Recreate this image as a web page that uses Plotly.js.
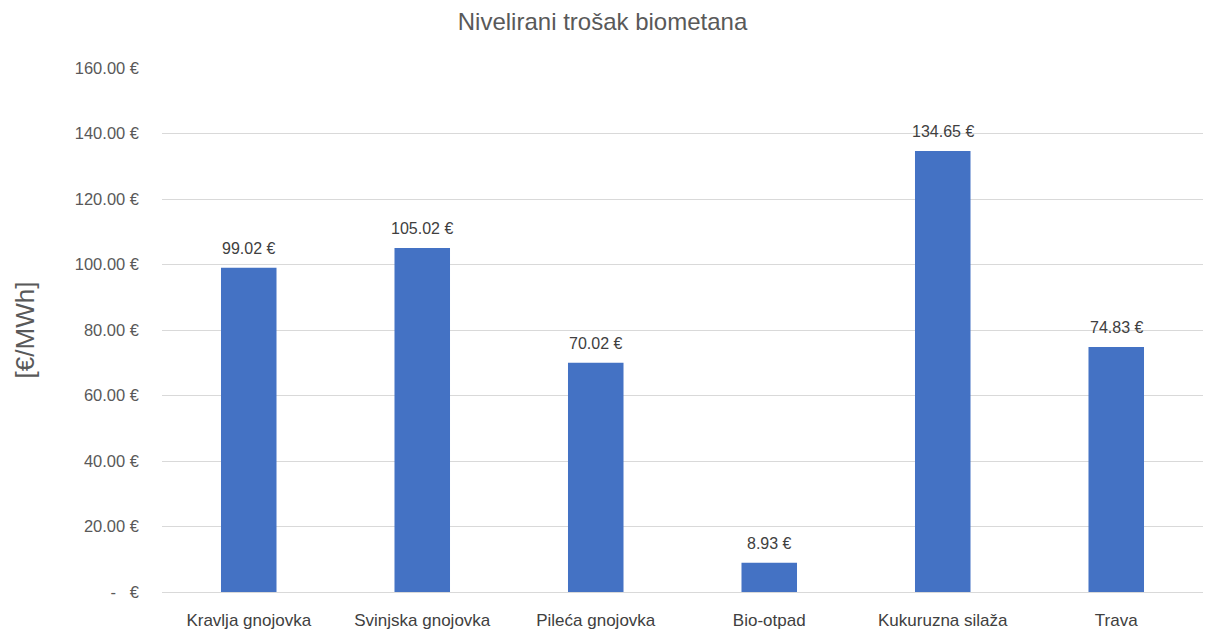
<!DOCTYPE html>
<html>
<head>
<meta charset="utf-8">
<script src="https://cdn.plot.ly/plotly-3.0.1.min.js"></script>
<style>html,body{margin:0;padding:0;background:#fff;}#chart{width:1205px;height:630px;}</style>
</head>
<body>
<div id="chart"></div>
<script>
const categories = ["Kravlja gnojovka", "Svinjska gnojovka", "Pileća gnojovka", "Bio-otpad", "Kukuruzna silaža", "Trava"];
const values = [99.02, 105.02, 70.02, 8.93, 134.65, 74.83];
const valueLabels = ["99.02 €", "105.02 €", "70.02 €", "8.93 €", "134.65 €", "74.83 €"];
const yTickVals = [0, 20, 40, 60, 80, 100, 120, 140, 160];
const yTickText = ["-   €", "20.00 €", "40.00 €", "60.00 €", "80.00 €", "100.00 €", "120.00 €", "140.00 €", "160.00 €"];

const trace = {
  type: "bar",
  x: categories,
  y: values,
  marker: {color: "#4472C4"},
  hoverinfo: "x+y"
};

const labelAnnotations = categories.map((c, i) => ({
  x: c, y: values[i], xref: "x", yref: "y",
  text: valueLabels[i], showarrow: false,
  xanchor: "center", yanchor: "bottom", yshift: 9,
  font: {family: "Liberation Sans, Arial, sans-serif", size: 16, color: "#404040"}
}));

const layout = {
  width: 1205, height: 630,
  margin: {l: 162, r: 2, t: 68, b: 38},
  paper_bgcolor: "#ffffff", plot_bgcolor: "#ffffff",
  bargap: 0.68,
  showlegend: false,
  annotations: labelAnnotations,
  title: {text: "Nivelirani trošak biometana", x: 0.5, xanchor: "center", y: 0.965, yanchor: "middle",
          font: {family: "Liberation Sans, Arial, sans-serif", size: 24, color: "#595959"}},
  xaxis: {
    showgrid: false, zeroline: false, showline: false,
    ticks: "", ticklabelstandoff: 16,
    tickfont: {family: "Liberation Sans Narrow, Liberation Sans, Arial, sans-serif", size: 17, color: "#404040"},
    automargin: false
  },
  yaxis: {
    range: [0, 160], tickvals: yTickVals, ticktext: yTickText,
    showgrid: true, gridcolor: "#d9d9d9", gridwidth: 1,
    zeroline: true, zerolinecolor: "#d9d9d9", zerolinewidth: 1,
    showline: false, ticks: "", ticklen: 0, ticklabelstandoff: 22,
    tickfont: {family: "Liberation Sans, Arial, sans-serif", size: 16.5, color: "#595959"},
    title: {text: "[€/MWh]", standoff: 32, font: {family: "Liberation Sans, Arial, sans-serif", size: 26, color: "#595959"}},
    automargin: false
  }
};

Plotly.newPlot("chart", [trace], layout, {displayModeBar: false, staticPlot: true});
</script>
</body>
</html>
